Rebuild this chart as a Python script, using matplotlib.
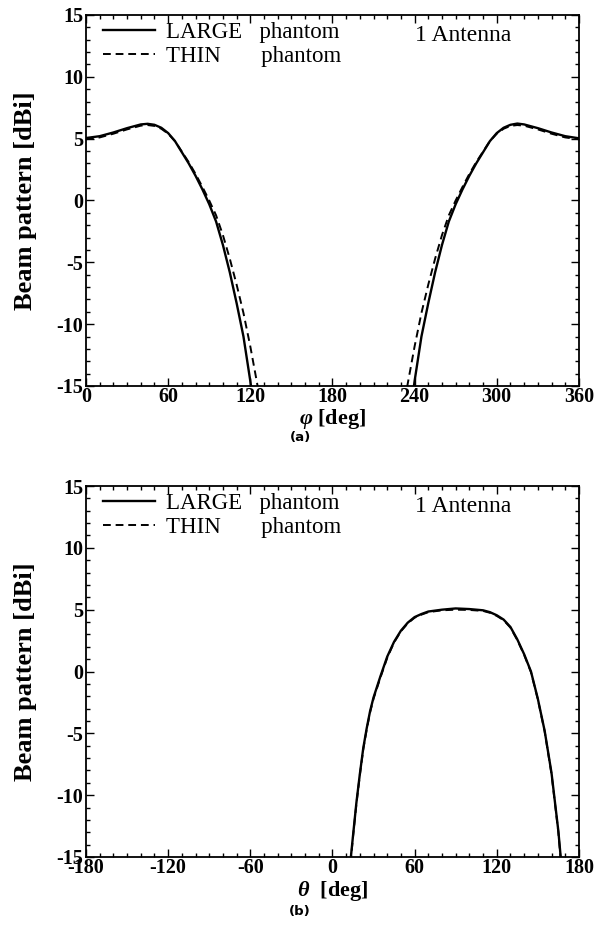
import numpy as np
import matplotlib
matplotlib.use("Agg")
import matplotlib.pyplot as plt
from matplotlib.ticker import MultipleLocator

plt.rcParams['font.family'] = 'Liberation Serif'
plt.rcParams['axes.unicode_minus'] = False
plt.rcParams['mathtext.fontset'] = 'custom'
plt.rcParams['mathtext.it'] = 'Liberation Serif:italic:bold'
plt.rcParams['mathtext.rm'] = 'Liberation Serif:bold'

# (a) azimuth cut, phi in degrees
phi_large = [0, 10, 20, 30, 40, 45, 50, 55, 60, 65, 70, 75, 80, 85, 90, 95, 100, 105, 110, 115, 120, 121.2,
             238.8, 240, 245, 250, 255, 260, 265, 270, 275, 280, 285, 290, 295, 300, 305, 310, 315, 320,
             330, 340, 350, 360]
bp_large = [5.05, 5.2, 5.5, 5.85, 6.15, 6.2, 6.12, 5.88, 5.45, 4.8, 3.9, 3.0, 2.0, 0.9, -0.3, -1.7, -3.6, -5.8,
            -8.3, -11.0, -14.6, -15.6,
            -15.6, -14.6, -11.0, -8.3, -5.8, -3.6, -1.7, -0.3, 0.9, 2.0, 3.0, 3.9, 4.8, 5.45, 5.88, 6.12, 6.22,
            6.15, 5.85, 5.5, 5.2, 5.03]

phi_thin = [0, 10, 20, 30, 40, 45, 50, 55, 60, 65, 70, 75, 80, 85, 90, 95, 100, 105, 110, 115, 120, 125, 126.2,
            233.8, 235, 240, 245, 250, 255, 260, 265, 270, 275, 280, 285, 290, 295, 300, 305, 310, 315, 320,
            330, 340, 350, 360]
bp_thin = [4.95, 5.1, 5.4, 5.75, 6.05, 6.1, 6.03, 5.8, 5.4, 4.8, 3.95, 3.1, 2.15, 1.1, 0.0, -1.2, -2.8, -4.7,
           -6.8, -9.1, -11.8, -14.8, -15.6,
           -15.6, -14.8, -11.8, -9.1, -6.8, -4.7, -2.8, -1.2, 0.0, 1.1, 2.15, 3.1, 3.95, 4.8, 5.4, 5.8, 6.03,
           6.1, 6.05, 5.75, 5.4, 5.1, 4.95]

# (b) elevation cut, theta in degrees
theta_large = [13.0, 15, 17.5, 20, 22.5, 25, 27.5, 30, 35, 40, 45, 50, 55, 60, 65, 70, 80, 90, 100, 110,
               115, 120, 125, 130, 135, 140, 145, 150, 155, 160, 165, 167.2]
bp_theta_large = [-15.5, -13.3, -10.6, -8.3, -6.2, -4.6, -3.2, -2.1, -0.4, 1.2, 2.4, 3.3, 3.95, 4.4, 4.65,
                  4.85, 5.0, 5.1, 5.05, 4.95, 4.8, 4.55, 4.2, 3.6, 2.6, 1.4, 0.0, -2.2, -4.8, -8.2, -12.9, -15.6]
theta_thin = [13.2, 15, 17.5, 20, 22.5, 25, 27.5, 30, 35, 40, 45, 50, 55, 60, 65, 70, 80, 90, 100, 110,
              115, 120, 125, 130, 135, 140, 145, 150, 155, 160, 165, 167.0]
bp_theta_thin = [-15.5, -13.4, -10.7, -8.4, -6.3, -4.7, -3.3, -2.2, -0.5, 1.1, 2.35, 3.25, 3.9, 4.35, 4.6,
                 4.8, 4.95, 5.0, 4.98, 4.9, 4.75, 4.5, 4.15, 3.55, 2.55, 1.35, -0.05, -2.25, -4.85, -8.3,
                 -13.0, -15.6]

fig = plt.figure(figsize=(6.1, 9.43), dpi=100)
ax1 = fig.add_axes([0.141, 0.5907, 0.808, 0.3934])
ax2 = fig.add_axes([0.141, 0.0912, 0.808, 0.3934])


def style_axes(ax, xlim, xticks):
    ax.set_xlim(*xlim)
    ax.set_ylim(-15, 15)
    ax.set_xticks(xticks)
    ax.set_yticks([-15, -10, -5, 0, 5, 10, 15])
    ax.xaxis.set_minor_locator(MultipleLocator(10))
    ax.yaxis.set_minor_locator(MultipleLocator(1))
    ax.tick_params(which='both', direction='in', top=True, right=True, width=1.0)
    ax.tick_params(which='major', length=6, labelsize=14.5)
    ax.tick_params(axis='x', which='major', pad=1)
    ax.tick_params(axis='y', which='major', pad=2)
    ax.tick_params(which='minor', length=3)
    for lab in ax.get_xticklabels() + ax.get_yticklabels():
        lab.set_fontweight('bold')
    for sp in ax.spines.values():
        sp.set_linewidth(1.3)
    ax.set_ylabel('Beam pattern [dBi]', fontsize=19, fontweight='bold')
    ax.yaxis.set_label_coords(-0.1, 0.5)
    ax.text(0.667, 0.946, '1 Antenna', transform=ax.transAxes, fontsize=17, va='center')
    ax.legend(loc='upper left', frameon=False, fontsize=16.5, handlelength=2.25,
              borderaxespad=0.0, borderpad=0.1, labelspacing=0.15, handletextpad=0.5,
              bbox_to_anchor=(0.03, 0.988))


ax1.plot(phi_large, bp_large, 'k-', lw=1.7, label='LARGE   phantom')
ax1.plot(phi_thin, bp_thin, 'k--', lw=1.4, dashes=(4, 2.5), label='THIN       phantom')
style_axes(ax1, (0, 360), [0, 60, 120, 180, 240, 300, 360])
ax1.set_xlabel(r'$\varphi$ [deg]', fontsize=16, fontweight='bold', va='top')
ax1.xaxis.set_label_coords(0.5, -0.058)

ax2.plot(theta_large, bp_theta_large, 'k-', lw=1.7, label='LARGE   phantom')
ax2.plot(theta_thin, bp_theta_thin, 'k--', lw=1.4, dashes=(4, 2.5), label='THIN       phantom')
style_axes(ax2, (-180, 180), [-180, -120, -60, 0, 60, 120, 180])
ax2.set_xlabel(r'$\theta$  [deg]', fontsize=16, fontweight='bold', va='top')
ax2.xaxis.set_label_coords(0.5, -0.058)

fig.text(0.492, 1 - 438 / 943, '(a)', family='DejaVu Sans', fontsize=9.5, fontweight='bold',
         ha='center', va='center')
fig.text(0.492, 1 - 912 / 943, '(b)', family='DejaVu Sans', fontsize=9.5, fontweight='bold',
         ha='center', va='center')

fig.savefig('out.png', dpi=100)
